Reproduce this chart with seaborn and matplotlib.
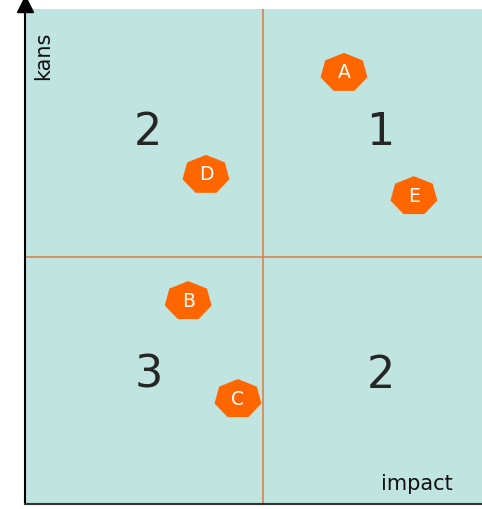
import numpy as np
import pandas as pd
import matplotlib
matplotlib.use("Agg")
import matplotlib.pyplot as plt
import seaborn as sns

# risks placed on the impact / kans grid
risk_labels = ["A", "B", "C", "D", "E"]
risk_impact = [6.98, 3.57, 4.66, 3.96, 8.51]
risk_kans = [8.71, 4.10, 2.12, 6.65, 6.22]

# quadrant priorities
quad_labels = ["2", "1", "3", "2"]
quad_x = [2.7, 7.78, 2.7, 7.78]
quad_y = [7.5, 7.5, 2.6, 2.6]

x_split = 5.2
y_split = 5.0

df = pd.DataFrame({"impact": risk_impact, "kans": risk_kans, "label": risk_labels})

sns.set_theme(style="white")
plt.rcParams["font.family"] = ["DejaVu Sans"]

fig = plt.figure(figsize=(4.82, 5.09), dpi=100)
ax = fig.add_axes([25 / 482, 5 / 509, 457 / 482, 495 / 509])
ax.set_facecolor("#c0e4df")
ax.set_xlim(0, 10)
ax.set_ylim(0, 10)

ax.axvline(x_split, color="#d98250", lw=1.2)
ax.axhline(y_split, color="#d98250", lw=1.2)

# stretched heptagon marker
theta = np.linspace(0, 2 * np.pi, 8)[:-1]
hept = list(zip(np.sin(theta), np.cos(theta) * 0.83))

sns.scatterplot(data=df, x="impact", y="kans", marker=hept, s=1140,
                color="#ff6600", edgecolor="none", linewidth=0, ax=ax, zorder=3)
for _, r in df.iterrows():
    ax.text(r["impact"], r["kans"], r["label"], color="white", fontsize=13.5,
            ha="center", va="center", zorder=4)

for t, x, y in zip(quad_labels, quad_x, quad_y):
    ax.text(x, y, t, fontsize=32, color="#262626", ha="center", va="center")

ax.text(0.4, 9.05, "kans", rotation=90, fontsize=15, ha="center", va="center", color="#111111")
ax.text(8.58, 0.4, "impact", fontsize=15, ha="center", va="center", color="#111111")

for s in ["top", "right"]:
    ax.spines[s].set_visible(False)
ax.spines["left"].set_color("black")
ax.spines["left"].set_linewidth(1.5)
ax.spines["bottom"].set_color("#333333")
ax.spines["bottom"].set_linewidth(1.5)
ax.plot(0, 10.1, marker="^", color="black", markersize=11, clip_on=False, zorder=5)

ax.set_xticks([])
ax.set_yticks([])
ax.set_xlabel("")
ax.set_ylabel("")

fig.savefig("out.png", dpi=100)
